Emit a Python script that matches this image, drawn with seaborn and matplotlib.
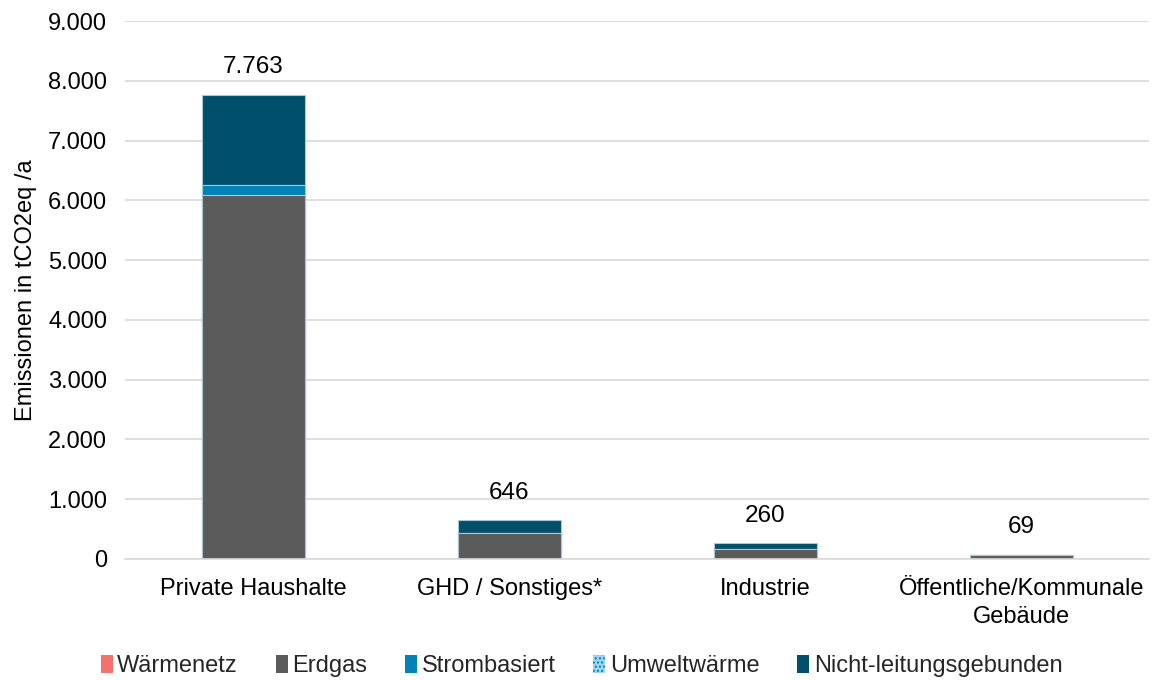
import numpy as np
import seaborn as sns
import matplotlib.pyplot as plt
import pandas as pd
from matplotlib.patches import Patch

sns.set_theme(style="white")
plt.rcParams['font.family'] = ['Liberation Sans', 'DejaVu Sans']
plt.rcParams.update({'font.size': 17})

sectors = ["Private Haushalte", "GHD / Sonstiges*", "Industrie", "Öffentliche/Kommunale\nGebäude"]
waermenetz = [0, 0, 0, 0]
erdgas = [6090, 435, 162, 69]
strombasiert = [165, 0, 0, 0]
umweltwaerme = [0, 0, 0, 0]
nicht_leitung = [1508, 211, 98, 0]
totals = [7763, 646, 260, 69]

series = ["Wärmenetz", "Erdgas", "Strombasiert", "Umweltwärme", "Nicht-leitungsgebunden"]
colors = ["#F4726B", "#5B5B5B", "#0083B8", "#9ED4EC", "#004F6B"]

df = pd.DataFrame({"Sektor": sectors, "Wärmenetz": waermenetz, "Erdgas": erdgas,
                   "Strombasiert": strombasiert, "Umweltwärme": umweltwaerme,
                   "Nicht-leitungsgebunden": nicht_leitung})
cum = df[series].cumsum(axis=1)

fig = plt.figure(figsize=(11.61, 6.8), dpi=100)
ax = fig.add_axes([0.108, 0.178, 0.882, 0.791])

# draw cumulative sums from the top layer down so the stacks overlap correctly
for s, c in reversed(list(zip(series, colors))):
    sns.barplot(x=df["Sektor"], y=cum[s], color=c, width=0.4, saturation=1,
                edgecolor="#A9C6D4", linewidth=0.8, ax=ax,
                hatch="...." if s == "Umweltwärme" else None)

for i, t in enumerate(totals):
    ax.text(i, t + 280, f"{t:,}".replace(",", "."), ha="center", va="bottom",
            fontsize=17.5, color="black")

ax.set_ylim(0, 9000)
ax.set_yticks(np.arange(0, 9001, 1000))
ax.set_yticklabels([f"{v:,}".replace(",", ".") for v in range(0, 9001, 1000)])
ax.yaxis.grid(True, color="#D9D9D9", linewidth=1.2)
ax.set_axisbelow(True)
for sp in ["top", "right", "left"]:
    ax.spines[sp].set_visible(False)
ax.spines["bottom"].set_color("#D9D9D9")
ax.spines["bottom"].set_linewidth(1.2)
ax.tick_params(axis="y", labelsize=17, colors="black", length=0, pad=13)
ax.tick_params(axis="x", labelsize=17, colors="black", length=0, pad=14)
for lab in ax.get_xticklabels():
    lab.set_linespacing(1.3)
ax.set_xlabel("")
ax.set_ylabel("Emissionen in tCO2eq /a", fontsize=17, color="black", labelpad=8)
ax.set_xlim(-0.5, 3.5)

handles = [Patch(facecolor=c, edgecolor="#0083B8" if s == "Umweltwärme" else "none",
                 linewidth=0, hatch="...." if s == "Umweltwärme" else None)
           for s, c in zip(series, colors)]
fig.legend(handles, series, loc="lower center", bbox_to_anchor=(0.501, -0.027), ncol=5,
           frameon=False, fontsize=17, handlelength=0.5, handleheight=0.75,
           handletextpad=0.2, columnspacing=1.6)

plt.savefig("out.png", dpi=100)
